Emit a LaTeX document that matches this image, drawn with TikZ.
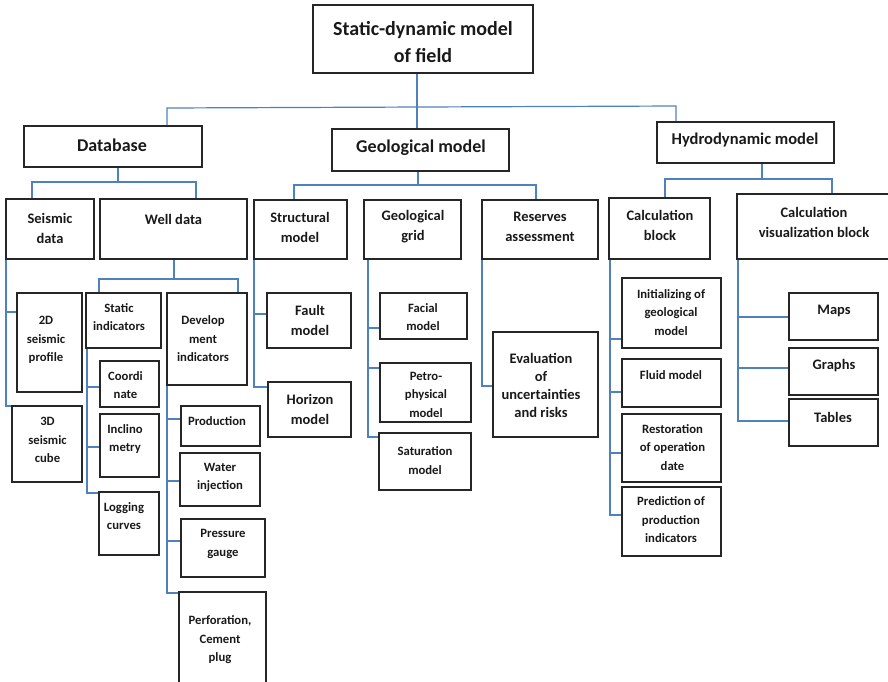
\documentclass[tikz,border=0pt]{standalone}
\usepackage{fontspec}
\setmainfont{Carlito}
\begin{document}
\begin{tikzpicture}[x=1pt,y=-1pt,
  box/.style={draw=black!85, line width=1.6pt, inner sep=0pt, rectangle},
  conn/.style={draw={rgb,255:red,79;green,129;blue,189}, line width=1.2pt},
  txt/.style={inner sep=0pt, align=center, text=black!90},
  fA/.style={font=\fontsize{20}{27}\selectfont\bfseries},
  fB/.style={font=\fontsize{18}{22}\selectfont\bfseries},
  fH/.style={font=\fontsize{16.5}{20}\selectfont\bfseries},
  fM/.style={font=\fontsize{14.5}{20}\selectfont\bfseries},
  fE/.style={font=\fontsize{14.5}{18}\selectfont\bfseries},
  fS/.style={font=\fontsize{12.7}{18.5}\selectfont\bfseries}]
\clip (0,0) rectangle (888,681);
\newcommand\bxx[5]{\node[box, minimum width={(#4-#2)*1pt}, minimum height={(#5-#3)*1pt}] (#1) at ({(#2+#4)/2},{(#3+#5)/2}) {};}
% boxes
\bxx{root}{313}{5}{533}{73}
\bxx{db}{24}{126}{202}{167}
\bxx{geo}{332}{129}{509}{171}
\bxx{hyd}{657}{122}{834}{163}
\bxx{seis}{6}{199}{94}{259}
\bxx{well}{100}{199}{247}{259}
\bxx{struct}{254}{200}{347}{259}
\bxx{grid}{364}{200}{461}{259}
\bxx{res}{482}{200}{598}{259}
\bxx{calc}{609}{198}{710}{259}
\bxx{vis}{737}{194}{895}{259}
\bxx{stwo}{17}{293}{82}{392}
\bxx{sthree}{12}{406}{82}{482}
\bxx{stat}{86}{293}{161}{348}
\bxx{dev}{167}{293}{247}{385}
\bxx{coord}{100}{361}{159}{407}
\bxx{incl}{100}{414}{159}{477}
\bxx{logc}{99}{492}{159}{555}
\bxx{prod}{181}{406}{260}{446}
\bxx{water}{180}{453}{260}{506}
\bxx{press}{181}{519}{265}{577}
\bxx{perf}{179}{592}{266}{700}
\bxx{fault}{267}{293}{351}{348}
\bxx{horiz}{268}{382}{351}{437}
\bxx{facial}{380}{293}{467}{339}
\bxx{petro}{380}{363}{471}{422}
\bxx{satur}{379}{433}{471}{490}
\bxx{evalu}{493}{332}{598}{437}
\bxx{init}{622}{278}{721}{348}
\bxx{fluid}{622}{359}{721}{407}
\bxx{resto}{622}{414}{721}{482}
\bxx{pred}{622}{487}{721}{556}
\bxx{maps}{789}{293}{878}{340}
\bxx{graphs}{789}{348}{878}{395}
\bxx{tables}{789}{399}{878}{446}
% texts
\node[txt,fA] (t-root) at (423,42) {Static-dynamic model\\of field};
\node[txt,fB] (t-db) at (112,145) {Database};
\node[txt,fB] (t-geo) at (421,148) {Geological model};
\node[txt,fH] (t-hyd) at (745,140) {Hydrodynamic model};
\node[txt,fM] (t-seis) at (50,228) {Seismic\\data};
\node[txt,fM] (t-well) at (173.5,219) {Well data};
\node[txt,fM] (t-struct) at (300,227) {Structural\\model};
\node[txt,fM] (t-grid) at (413,227) {Geological\\grid};
\node[txt,fM] (t-res) at (540,227) {Reserves\\assessment};
\node[txt,fM] (t-calc) at (660,225) {Calculation\\block};
\node[txt,fM] (t-vis) at (814,222) {Calculation\\visualization block};
\node[txt,fS] (t-stwo) at (46,340) {2D\\seismic\\profile};
\node[txt,fS] (t-sthree) at (47.5,440) {3D\\seismic\\cube};
\node[txt,fS] (t-stat) at (119,317) {Static\\indicators};
\node[txt,fS] (t-dev) at (203,339) {Develop\\ment\\indicators};
\node[txt,fS] (t-coord) at (125.5,385) {Coordi\\nate};
\node[txt,fS] (t-incl) at (125,439) {Inclino\\metry};
\node[txt,fS] (t-logc) at (124,516) {Logging\\curves};
\node[txt,fS] (t-prod) at (217,421) {Production};
\node[txt,fS] (t-water) at (220,477.5) {Water\\injection};
\node[txt,fS] (t-press) at (223,544) {Pressure\\gauge};
\node[txt,fS] (t-perf) at (220,640) {Perforation,\\Cement\\plug};
\node[txt,fM] (t-fault) at (310,320) {Fault\\model};
\node[txt,fM] (t-horiz) at (310,409) {Horizon\\model};
\node[txt,fS] (t-facial) at (423,317) {Facial\\model};
\node[txt,fS] (t-petro) at (426,394.5) {Petro-\\physical\\model};
\node[txt,fS] (t-satur) at (425,460.5) {Saturation\\model};
\node[txt,fE] (t-evalu) at (541,385) {Evaluation\\of\\uncertainties\\and risks};
\node[txt,fS] (t-init) at (671,312.5) {Initializing of\\geological\\model};
\node[txt,fS] (t-fluid) at (671,375) {Fluid model};
\node[txt,fS] (t-resto) at (672.5,447.5) {Restoration\\of operation\\date};
\node[txt,fS] (t-pred) at (671,520) {Prediction of\\production\\indicators};
\node[txt,fM] (t-maps) at (834,311) {Maps};
\node[txt,fM] (t-graphs) at (834,366) {Graphs};
\node[txt,fM] (t-tables) at (833,417) {Tables};
% connector coordinates
\coordinate (bL) at (167,108); \coordinate (bM) at (417,107); \coordinate (bR) at (676,106);
\coordinate (d0) at (118,182); \coordinate (dL) at (32,182); \coordinate (dR) at (196,182);
\coordinate (w0) at (174,279); \coordinate (wL) at (99,279); \coordinate (wR) at (238,279);
\coordinate (sa) at (6,312); \coordinate (sb) at (6,406);
\coordinate (ta) at (87,387); \coordinate (tb) at (87,447); \coordinate (tc) at (87,493);
\coordinate (va) at (167,419); \coordinate (vb) at (167,481); \coordinate (vc) at (167,541); \coordinate (vd) at (167,593);
\coordinate (g0) at (418,185); \coordinate (gL) at (294,185); \coordinate (gR) at (536,185);
\coordinate (sta) at (254,314); \coordinate (stb) at (254,387);
\coordinate (ga) at (368,328); \coordinate (gb) at (368,368); \coordinate (gc) at (368,437);
\coordinate (ra) at (482,386);
\coordinate (h0) at (762,179); \coordinate (hL) at (665,179); \coordinate (hR) at (832,179);
\coordinate (ca) at (610,339); \coordinate (cb) at (610,392); \coordinate (cc) at (610,453); \coordinate (cd) at (610,515);
\coordinate (ua) at (738,317); \coordinate (ub) at (738,368); \coordinate (uc) at (738,421);
% connectors
\draw[conn] (bM |- root.south) -- (bM |- geo.north);
\draw[conn] (bL |- db.north) -- (bL) -- (bR) -- (bR |- hyd.north);
\draw[conn] (d0 |- db.south) -- (d0);
\draw[conn] (dL |- seis.north) -- (dL) -- (dR) -- (dR |- well.north);
\draw[conn] (w0 |- well.south) -- (w0);
\draw[conn] (wL |- stat.north) -- (wL) -- (wR) -- (wR |- dev.north);
\draw[conn] (sa |- seis.south) -- (sb) -- (sb -| sthree.west);
\draw[conn] (sa) -- (sa -| stwo.west);
\draw[conn] (ta |- stat.south) -- (tc) -- (tc -| logc.west);
\draw[conn] (ta) -- (ta -| coord.west);
\draw[conn] (tb) -- (tb -| incl.west);
\draw[conn] (va |- dev.south) -- (vd) -- (vd -| perf.west);
\draw[conn] (va) -- (va -| prod.west);
\draw[conn] (vb) -- (vb -| water.west);
\draw[conn] (vc) -- (vc -| press.west);
\draw[conn] (g0 |- geo.south) -- (g0);
\draw[conn] (gL |- struct.north) -- (gL) -- (gR) -- (gR |- res.north);
\draw[conn] (sta |- struct.south) -- (stb) -- (stb -| horiz.west);
\draw[conn] (sta) -- (sta -| fault.west);
\draw[conn] (ga |- grid.south) -- (gc) -- (gc -| satur.west);
\draw[conn] (ga) -- (ga -| facial.west);
\draw[conn] (gb) -- (gb -| petro.west);
\draw[conn] (ra |- res.south) -- (ra) -- (ra -| evalu.west);
\draw[conn] (h0 |- hyd.south) -- (h0);
\draw[conn] (hL |- calc.north) -- (hL) -- (hR) -- (hR |- vis.north);
\draw[conn] (ca |- calc.south) -- (cd) -- (cd -| pred.west);
\draw[conn] (ca) -- (ca -| init.west);
\draw[conn] (cb) -- (cb -| fluid.west);
\draw[conn] (cc) -- (cc -| resto.west);
\draw[conn] (ua |- vis.south) -- (uc) -- (uc -| tables.west);
\draw[conn] (ua) -- (ua -| maps.west);
\draw[conn] (ub) -- (ub -| graphs.west);
\end{tikzpicture}
\end{document}
